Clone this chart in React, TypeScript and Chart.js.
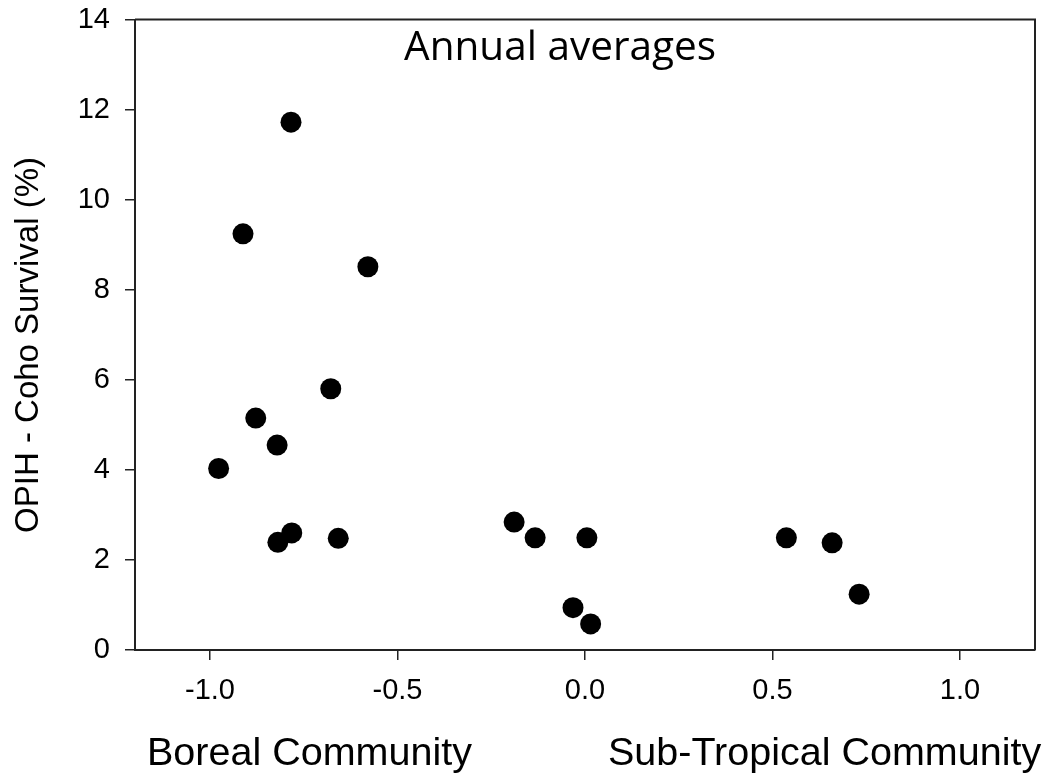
import React, { useEffect, useRef } from "react";
import { Chart, registerables } from "chart.js";

Chart.register(...registerables);

const xValues = [-0.784, -0.912, -0.579, -0.678, -0.878, -0.821, -0.977, -0.782, -0.819, -0.658, -0.189, -0.133, 0.005, -0.032, 0.015, 0.537, 0.659, 0.731];
const yValues = [11.72, 9.24, 8.51, 5.8, 5.15, 4.55, 4.03, 2.6, 2.39, 2.48, 2.84, 2.49, 2.49, 0.94, 0.58, 2.49, 2.38, 1.24];
const xTicks = [-1.0, -0.5, 0.0, 0.5, 1.0];
const yTicks = [0, 2, 4, 6, 8, 10, 12, 14];
const titleText = "Annual averages";
const yTitle = "OPIH - Coho Survival (%)";
const leftLabel = "Boreal Community";
const rightLabel = "Sub-Tropical Community";

const W = 1050;
const H = 773;

export default function App() {
  const ref = useRef<HTMLCanvasElement | null>(null);

  useEffect(() => {
    if (!ref.current) return;
    const textPlugin = {
      id: "textPlugin",
      afterDraw(chart: any) {
        const ctx = chart.ctx;
        const a = chart.chartArea;
        ctx.save();
        ctx.strokeStyle = "#222";
        ctx.lineWidth = 2;
        ctx.beginPath();
        ctx.moveTo(a.left, a.top);
        ctx.lineTo(a.right, a.top);
        ctx.lineTo(a.right, a.bottom);
        ctx.stroke();
        ctx.fillStyle = "#000";
        ctx.font = "40.5px 'Open Sans'";
        ctx.textAlign = "center";
        ctx.textBaseline = "alphabetic";
        ctx.fillText(titleText, 560, 60);
        ctx.font = "39.5px 'Liberation Sans'";
        ctx.textAlign = "left";
        ctx.fillText(leftLabel, 147, 765);
        ctx.fillText(rightLabel, 608, 765);
        ctx.font = "33px 'Liberation Sans'";
        ctx.translate(38, 345);
        ctx.rotate(-Math.PI / 2);
        ctx.textAlign = "center";
        ctx.fillText(yTitle, 0, 0);
        ctx.restore();
      },
    };

    const chart = new Chart(ref.current, {
      type: "scatter",
      data: {
        datasets: [
          {
            data: xValues.map((x, i) => ({ x, y: yValues[i] })),
            backgroundColor: "#000",
            borderWidth: 0,
            pointRadius: 10.5,
            pointHoverRadius: 10.5,
          },
        ],
      },
      options: {
        responsive: false,
        animation: false,
        layout: { padding: { left: 0, right: 15, top: 19.5, bottom: 0 } },
        plugins: { legend: { display: false }, tooltip: { enabled: false } },
        scales: {
          x: {
            type: "linear",
            min: -1.2,
            max: 1.2,
            afterBuildTicks: (s: any) => {
              s.ticks = xTicks.map((v) => ({ value: v }));
            },
            afterFit: (s: any) => {
              s.height = 123;
              s.paddingLeft = 0;
              s.paddingRight = 0;
            },
            ticks: {
              color: "#000",
              font: { family: "'Liberation Sans'", size: 29 },
              padding: 14,
              maxRotation: 0,
              autoSkip: false,
              callback: (v: any) => Number(v).toFixed(1),
            },
            grid: { display: true, drawOnChartArea: false, drawTicks: true, tickLength: 10, color: "#222", lineWidth: 1.5 },
            border: { display: true, color: "#222", width: 2 },
          },
          y: {
            type: "linear",
            min: 0,
            max: 14,
            afterBuildTicks: (s: any) => {
              s.ticks = yTicks.map((v) => ({ value: v }));
            },
            afterFit: (s: any) => {
              s.width = 135;
              s.paddingTop = 0;
              s.paddingBottom = 0;
            },
            ticks: {
              color: "#000",
              font: { family: "'Liberation Sans'", size: 29 },
              padding: 15,
              autoSkip: false,
              callback: (v: any) => String(v),
            },
            grid: { display: true, drawOnChartArea: false, drawTicks: true, tickLength: 10, color: "#222", lineWidth: 1.5 },
            border: { display: true, color: "#222", width: 2 },
          },
        },
      },
      plugins: [textPlugin],
    } as any);
    return () => chart.destroy();
  }, []);

  return (
    <div style={{ position: "fixed", left: 0, top: 0, width: W, height: H, background: "#fff" }}>
      <canvas ref={ref} width={W} height={H} style={{ display: "block" }} />
    </div>
  );
}
